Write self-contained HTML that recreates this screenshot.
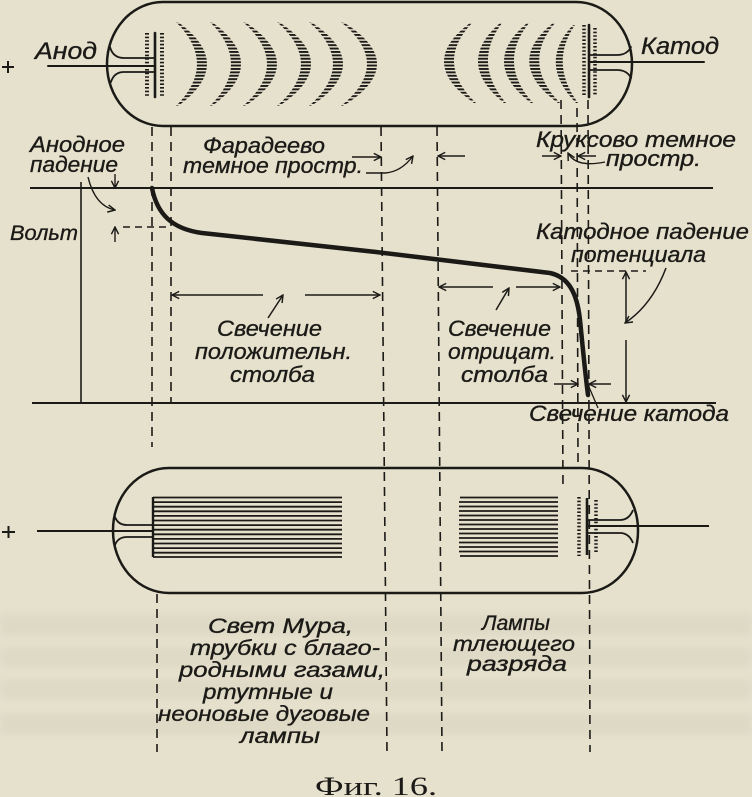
<!DOCTYPE html>
<html>
<head>
<meta charset="utf-8">
<style>
html,body{margin:0;padding:0;background:#e6e1cd;}
svg{display:block;}
.t{font-family:"Liberation Sans","DejaVu Sans",sans-serif;font-style:italic;fill:#1b1a17;stroke:#1b1a17;stroke-width:0.35;}
.c{font-family:"Liberation Serif","DejaVu Serif",serif;fill:#1b1a17;}
</style>
</head>
<body>
<svg width="752" height="797" viewBox="0 0 752 797" xmlns="http://www.w3.org/2000/svg">
<defs>
  <pattern id="hl" width="10" height="3.4" patternUnits="userSpaceOnUse">
    <rect width="10" height="1.9" fill="#1b1a17"/>
  </pattern>
  <marker id="ah" viewBox="0 0 10 10" refX="9" refY="5" markerWidth="9" markerHeight="9" markerUnits="userSpaceOnUse" orient="auto">
    <path d="M1,1 L9,5 L1,9" fill="none" stroke="#1b1a17" stroke-width="1.6"/>
  </marker>
  <filter id="bl" x="-10%" y="-50%" width="120%" height="200%"><feGaussianBlur stdDeviation="4"/></filter>
</defs>

<rect x="0" y="0" width="752" height="797" fill="#e6e1cd"/>
<!-- faint bleed-through -->
<g fill="#5a5446" opacity="0.05" filter="url(#bl)">
  <rect x="0" y="614" width="752" height="22"/>
  <rect x="0" y="647" width="752" height="20"/>
  <rect x="0" y="679" width="752" height="20"/>
  <rect x="0" y="713" width="752" height="22"/>
</g>

<g stroke="#1b1a17" fill="none" stroke-linecap="round">
  <!-- TOP TUBE -->
  <rect x="107" y="2" width="525" height="124" rx="56" ry="62" stroke-width="2.5"/>
  <!-- anode top -->
  <line x1="48" y1="66" x2="155" y2="66" stroke-width="2"/>
  <path d="M110,47 Q113,58 124,58 L155,58" stroke-width="1.8"/>
  <path d="M111,82 Q114,72 124,72 L155,72" stroke-width="1.8"/>
  <line x1="155" y1="33" x2="155" y2="97" stroke-width="2.6"/>
  <line x1="147" y1="33" x2="147" y2="97" stroke-width="4" stroke-dasharray="1.6 2" stroke-linecap="butt"/>
  <line x1="162" y1="33" x2="162" y2="97" stroke-width="4" stroke-dasharray="1.6 2" stroke-linecap="butt"/>
  <!-- cathode top -->
  <line x1="589" y1="62" x2="704" y2="62" stroke-width="2"/>
  <path d="M631,47 Q627,55 617,55 L589,55" stroke-width="1.8"/>
  <path d="M631,78 Q627,70 617,70 L589,70" stroke-width="1.8"/>
  <line x1="589" y1="25" x2="589" y2="97" stroke-width="2.6"/>
  <line x1="584" y1="25" x2="584" y2="97" stroke-width="3.5" stroke-dasharray="1.6 2" stroke-linecap="butt"/>
  <line x1="595" y1="28" x2="595" y2="95" stroke-width="3.5" stroke-dasharray="1.6 2" stroke-linecap="butt"/>
</g>

<!-- striations -->
<g fill="url(#hl)" stroke="none">
  <path d="M178,22 Q236,64 178,106 L176,106 Q218,64 176,22 Z"/>
  <path d="M212,22 Q270,64 212,106 L210,106 Q252,64 210,22 Z"/>
  <path d="M245,22 Q309,64 245,106 L243,106 Q291,64 243,22 Z"/>
  <path d="M279,22 Q343,64 279,106 L277,106 Q325,64 277,22 Z"/>
  <path d="M311,22 Q375,64 311,106 L309,106 Q357,64 309,22 Z"/>
  <path d="M343,22 Q411,64 343,106 L341,106 Q393,64 341,22 Z"/>
  <path d="M470,23 Q416,63 474,103 L476,103 Q434,63 472,23 Z"/>
  <path d="M500,23 Q454,63 504,103 L506,103 Q472,63 502,23 Z"/>
  <path d="M527,23 Q479,63 531,103 L533,103 Q497,63 529,23 Z"/>
  <path d="M553,23 Q503,63 558,103 L560,103 Q521,63 555,23 Z"/>
  <path d="M573,25 Q537,63 576,103 L578,103 Q549,63 575,25 Z"/>
</g>

<g stroke="#1b1a17" fill="none" stroke-linecap="butt">
  <!-- dashed verticals -->
  <g stroke-width="1.6" stroke-dasharray="9 6">
    <line x1="152" y1="127" x2="152" y2="447"/>
    <line x1="171" y1="127" x2="171" y2="403"/>
    <line x1="381" y1="127" x2="387" y2="752"/>
    <line x1="437" y1="127" x2="442" y2="752"/>
    <line x1="561" y1="100" x2="563" y2="488"/>
    <line x1="577" y1="108" x2="578" y2="467"/>
    <line x1="588" y1="100" x2="590" y2="752"/>
    <line x1="157" y1="594" x2="157" y2="752"/>
  </g>

  <!-- graph frame -->
  <line x1="30" y1="188" x2="713" y2="188" stroke-width="2"/>
  <line x1="32" y1="403" x2="716" y2="403" stroke-width="2"/>
  <line x1="81" y1="182" x2="81" y2="403" stroke-width="1.6"/>

  <!-- potential curve -->
  <path d="M152,188 C157,214 172,229 202,233 L376,252 L550,273 C568,277 577,292 580,320 C583,350 585,372 588,395" stroke-width="4.5" stroke-linecap="round"/>

  <!-- anode fall -->
  <line x1="115" y1="174" x2="115" y2="188" stroke-width="1.4" marker-end="url(#ah)"/>
  <path d="M88,177 Q95,206 115,210" stroke-width="1.4" marker-end="url(#ah)"/>
  <line x1="115" y1="242" x2="115" y2="227" stroke-width="1.4" marker-end="url(#ah)"/>
  <line x1="123" y1="227" x2="171" y2="227" stroke-width="1.5" stroke-dasharray="7 5"/>

  <!-- faraday arrows -->
  <line x1="352" y1="157" x2="381" y2="157" stroke-width="1.4" marker-end="url(#ah)"/>
  <path d="M366,173 L385,173 Q401,172 413,156" stroke-width="1.4" marker-end="url(#ah)"/>
  <line x1="465" y1="156" x2="438" y2="156" stroke-width="1.4" marker-end="url(#ah)"/>

  <!-- crookes arrows -->
  <line x1="542" y1="156" x2="561" y2="156" stroke-width="1.4" marker-end="url(#ah)"/>
  <line x1="596" y1="156" x2="578" y2="156" stroke-width="1.4" marker-end="url(#ah)"/>
  <path d="M605,162 Q576,168 568,153" stroke-width="1.4" marker-end="url(#ah)"/>

  <!-- positive column arrows -->
  <line x1="263" y1="295" x2="172" y2="295" stroke-width="1.5" marker-end="url(#ah)"/>
  <line x1="305" y1="295" x2="380" y2="295" stroke-width="1.5" marker-end="url(#ah)"/>
  <line x1="268" y1="318" x2="283" y2="295" stroke-width="1.5" marker-end="url(#ah)"/>

  <!-- negative glow arrows -->
  <line x1="493" y1="287" x2="439" y2="287" stroke-width="1.5" marker-end="url(#ah)"/>
  <line x1="516" y1="287" x2="560" y2="287" stroke-width="1.5" marker-end="url(#ah)"/>
  <line x1="496" y1="310" x2="509" y2="288" stroke-width="1.5" marker-end="url(#ah)"/>

  <!-- cathode fall -->
  <line x1="571" y1="271" x2="646" y2="271" stroke-width="1.5" stroke-dasharray="7 5"/>
  <line x1="626" y1="323" x2="626" y2="272" stroke-width="1.5" marker-end="url(#ah)"/>
  <line x1="626" y1="340" x2="626" y2="402" stroke-width="1.5" marker-end="url(#ah)"/>
  <path d="M666,268 Q652,305 625,323" stroke-width="1.5" marker-end="url(#ah)"/>

  <!-- cathode glow -->
  <line x1="554" y1="384" x2="578" y2="384" stroke-width="1.4" marker-end="url(#ah)"/>
  <line x1="611" y1="384" x2="589" y2="384" stroke-width="1.4" marker-end="url(#ah)"/>
  <line x1="589" y1="387" x2="598" y2="408" stroke-width="1.3"/>

  <!-- BOTTOM TUBE -->
  <rect x="113" y="468" width="525" height="125" rx="56" ry="62" stroke-width="2.5"/>
  <line x1="37" y1="531" x2="153" y2="531" stroke-width="2"/>
  <path d="M115,517 Q118,525 127,525 L153,525" stroke-width="1.8"/>
  <path d="M115,545 Q118,537 127,537 L153,537" stroke-width="1.8"/>
  <line x1="153" y1="497" x2="153" y2="557" stroke-width="2.4"/>
  <line x1="587" y1="526" x2="709" y2="526" stroke-width="2"/>
  <path d="M633,510 Q629,520 620,520 L587,520" stroke-width="1.8"/>
  <path d="M633,543 Q629,533 620,533 L587,533" stroke-width="1.8"/>
  <line x1="587" y1="498" x2="587" y2="555" stroke-width="2.6"/>
  <line x1="579" y1="497" x2="579" y2="556" stroke-width="3.5" stroke-dasharray="1.6 2"/>
  <line x1="596" y1="500" x2="596" y2="554" stroke-width="3.5" stroke-dasharray="1.6 2"/>

  <!-- plus signs -->
  <g stroke-width="2">
    <line x1="2" y1="67" x2="14" y2="67"/><line x1="8" y1="61" x2="8" y2="73"/>
    <line x1="2" y1="532" x2="15" y2="532"/><line x1="8.5" y1="526" x2="8.5" y2="538"/>
  </g>
</g>

<!-- hatched blocks -->
<g stroke="#1b1a17" stroke-width="1.8">
  <line x1="153" y1="497.5" x2="342" y2="497.5"/>
  <line x1="153" y1="502.1" x2="342" y2="502.1"/>
  <line x1="153" y1="506.7" x2="342" y2="506.7"/>
  <line x1="153" y1="511.3" x2="342" y2="511.3"/>
  <line x1="153" y1="515.9" x2="342" y2="515.9"/>
  <line x1="153" y1="520.5" x2="342" y2="520.5"/>
  <line x1="153" y1="525.1" x2="342" y2="525.1"/>
  <line x1="153" y1="529.7" x2="342" y2="529.7"/>
  <line x1="153" y1="534.3" x2="342" y2="534.3"/>
  <line x1="153" y1="538.9" x2="342" y2="538.9"/>
  <line x1="153" y1="543.5" x2="342" y2="543.5"/>
  <line x1="153" y1="548.1" x2="342" y2="548.1"/>
  <line x1="153" y1="552.7" x2="342" y2="552.7"/>
  <line x1="153" y1="557" x2="342" y2="557"/>

  <line x1="460" y1="497.5" x2="558" y2="497.5"/>
  <line x1="459" y1="502" x2="558" y2="502"/>
  <line x1="459" y1="506.5" x2="558" y2="506.5"/>
  <line x1="459" y1="511" x2="558" y2="511"/>
  <line x1="459" y1="515.5" x2="558" y2="515.5"/>
  <line x1="459" y1="520" x2="558" y2="520"/>
  <line x1="459" y1="524.5" x2="558" y2="524.5"/>
  <line x1="459" y1="529" x2="558" y2="529"/>
  <line x1="459" y1="533.5" x2="558" y2="533.5"/>
  <line x1="459" y1="538" x2="558" y2="538"/>
  <line x1="459" y1="542.5" x2="558" y2="542.5"/>
  <line x1="459" y1="547" x2="558" y2="547"/>
  <line x1="459" y1="551.5" x2="558" y2="551.5"/>
  <line x1="460" y1="556" x2="558" y2="556"/>
</g>

<!-- LABELS -->
<g class="t">
  <text x="35" y="59" font-size="24" textLength="62" lengthAdjust="spacingAndGlyphs">Анод</text>
  <text x="641" y="54" font-size="24" textLength="78" lengthAdjust="spacingAndGlyphs">Катод</text>

  <text x="30" y="152" font-size="22" textLength="95" lengthAdjust="spacingAndGlyphs">Анодное</text>
  <text x="30" y="172" font-size="22" textLength="88" lengthAdjust="spacingAndGlyphs">падение</text>

  <text x="203" y="153" font-size="22" textLength="122" lengthAdjust="spacingAndGlyphs">Фарадеево</text>
  <text x="183" y="173" font-size="22" textLength="180" lengthAdjust="spacingAndGlyphs">темное простр.</text>

  <text x="536" y="147" font-size="22" textLength="200" lengthAdjust="spacingAndGlyphs">Круксово темное</text>
  <text x="606" y="166" font-size="22" textLength="95" lengthAdjust="spacingAndGlyphs">простр.</text>

  <text x="10" y="240" font-size="21" textLength="68" lengthAdjust="spacingAndGlyphs">Вольт</text>

  <text x="536" y="239" font-size="22" textLength="213" lengthAdjust="spacingAndGlyphs">Катодное падение</text>
  <text x="571" y="262" font-size="22" textLength="135" lengthAdjust="spacingAndGlyphs">потенциала</text>

  <text x="217" y="336" font-size="22" textLength="105" lengthAdjust="spacingAndGlyphs">Свечение</text>
  <text x="195" y="359" font-size="22" textLength="157" lengthAdjust="spacingAndGlyphs">положительн.</text>
  <text x="230" y="382" font-size="22" textLength="85" lengthAdjust="spacingAndGlyphs">столба</text>

  <text x="448" y="336" font-size="22" textLength="103" lengthAdjust="spacingAndGlyphs">Свечение</text>
  <text x="448" y="359" font-size="22" textLength="108" lengthAdjust="spacingAndGlyphs">отрицат.</text>
  <text x="461" y="382" font-size="22" textLength="87" lengthAdjust="spacingAndGlyphs">столба</text>

  <text x="529" y="421" font-size="22" textLength="200" lengthAdjust="spacingAndGlyphs">Свечение катода</text>

  <text x="208" y="633" font-size="21" textLength="145" lengthAdjust="spacingAndGlyphs">Свет Мура,</text>
  <text x="190" y="655" font-size="21" textLength="190" lengthAdjust="spacingAndGlyphs">трубки с благо-</text>
  <text x="179" y="677" font-size="21" textLength="206" lengthAdjust="spacingAndGlyphs">родными газами,</text>
  <text x="203" y="699" font-size="21" textLength="130" lengthAdjust="spacingAndGlyphs">ртутные  и</text>
  <text x="158" y="721" font-size="21" textLength="212" lengthAdjust="spacingAndGlyphs">неоновые дуговые</text>
  <text x="240" y="743" font-size="21" textLength="80" lengthAdjust="spacingAndGlyphs">лампы</text>

  <text x="482" y="630" font-size="21" textLength="68" lengthAdjust="spacingAndGlyphs">Лампы</text>
  <text x="453" y="651" font-size="21" textLength="122" lengthAdjust="spacingAndGlyphs">тлеющего</text>
  <text x="467" y="671" font-size="21" textLength="100" lengthAdjust="spacingAndGlyphs">разряда</text>
</g>

<text class="c" x="315" y="795" font-size="26" textLength="122" lengthAdjust="spacingAndGlyphs">Фиг. 16.</text>
</svg>
</body>
</html>
